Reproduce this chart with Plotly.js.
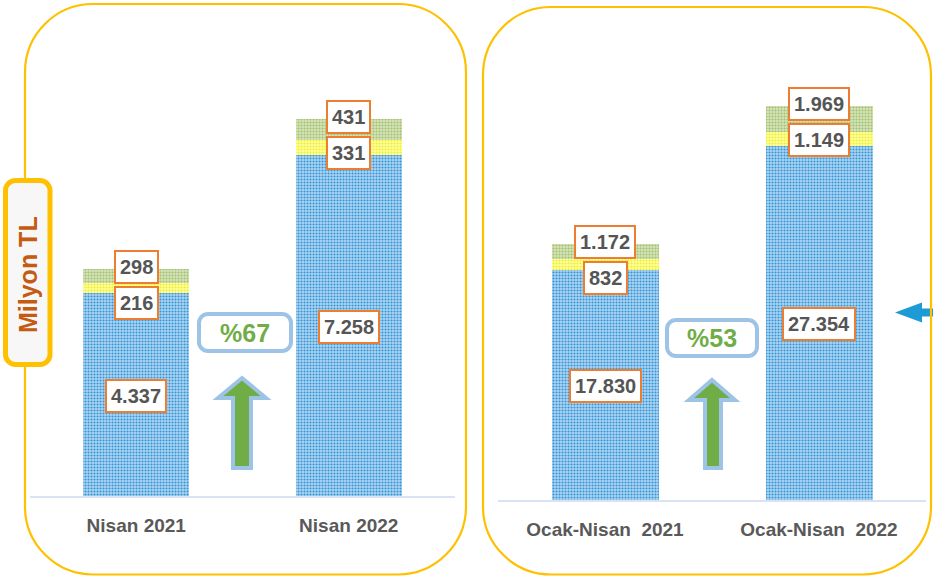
<!DOCTYPE html>
<html>
<head>
<meta charset="utf-8">
<script src="https://cdn.plot.ly/plotly-3.0.1.min.js"></script>
<style>
html,body{margin:0;padding:0;background:#ffffff;}
#chart{width:933px;height:576px;}
</style>
</head>
<body>
<div id="chart"></div>
<script>
// ---- data ----
const monthlyCategories = ['Nisan 2021', 'Nisan 2022'];
const monthlyTickText = ['Nisan 2021', 'Nisan 2022'];
const cumulativeCategories = ['Ocak-Nisan 2021', 'Ocak-Nisan 2022'];
const cumulativeTickText = ['Ocak-Nisan\u00a0\u00a02021', 'Ocak-Nisan\u00a0\u00a02022'];
const monthlyBlue = [4337, 7258];
const monthlyYellow = [216, 331];
const monthlyGreen = [298, 431];
const cumulativeBlue = [17830, 27354];
const cumulativeYellow = [832, 1149];
const cumulativeGreen = [1172, 1969];
const unitLabel = 'Milyon TL';

// ---- helpers ----
const W = 933, H = 576;
const FONT = 'Liberation Sans, Arial, sans-serif';
const px = x => x / W;
const py = y => 1 - y / H;
const pt = (x, y) => px(x).toFixed(5) + ',' + py(y).toFixed(5);
function roundRect(x0, y0, x1, y1, r) {
  const k = 0.5523 * r;
  return 'M' + pt(x0 + r, y0) +
    ' L' + pt(x1 - r, y0) +
    ' C' + pt(x1 - r + k, y0) + ' ' + pt(x1, y0 + r - k) + ' ' + pt(x1, y0 + r) +
    ' L' + pt(x1, y1 - r) +
    ' C' + pt(x1, y1 - r + k) + ' ' + pt(x1 - r + k, y1) + ' ' + pt(x1 - r, y1) +
    ' L' + pt(x0 + r, y1) +
    ' C' + pt(x0 + r - k, y1) + ' ' + pt(x0, y1 - r + k) + ' ' + pt(x0, y1 - r) +
    ' L' + pt(x0, y0 + r) +
    ' C' + pt(x0, y0 + r - k) + ' ' + pt(x0 + r - k, y0) + ' ' + pt(x0 + r, y0) + ' Z';
}
function poly(points) {
  return 'M' + points.map(p => pt(p[0], p[1])).join(' L') + ' Z';
}
const fmt = v => String(v).replace(/\B(?=(\d{3})+(?!\d))/g, '.');

const blueStyle = {color: '#acd2f1', line: {width: 0},
  pattern: {shape: '.', bgcolor: '#b0d4f2', fgcolor: '#3196d6', size: 3, solidity: 0.4}};
const yellowStyle = {color: '#ffff88', line: {width: 0},
  pattern: {shape: '.', bgcolor: '#ffff9c', fgcolor: '#eeee38', size: 3, solidity: 0.4}};
const greenStyle = {color: '#cfe0b2', line: {width: 0},
  pattern: {shape: '.', bgcolor: '#d5e4ba', fgcolor: '#a2c06f', size: 3, solidity: 0.4}};

function barTraces(cats, blue, yellow, green, xa, ya) {
  const base = {type: 'bar', x: cats, xaxis: xa, yaxis: ya, width: 0.5, hoverinfo: 'skip'};
  return [
    Object.assign({}, base, {y: blue, marker: blueStyle}),
    Object.assign({}, base, {y: yellow, marker: yellowStyle}),
    Object.assign({}, base, {y: green, marker: greenStyle})
  ];
}

const data = [].concat(
  barTraces(monthlyCategories, monthlyBlue, monthlyYellow, monthlyGreen, 'x', 'y'),
  barTraces(cumulativeCategories, cumulativeBlue, cumulativeYellow, cumulativeGreen, 'x2', 'y2')
);

const labelFont = {family: FONT, size: 20, color: '#555555', weight: 'bold'};
function valueLabels(cats, blue, yellow, green, xref, yref) {
  const out = [];
  cats.forEach((c, i) => {
    const total = blue[i] + yellow[i] + green[i];
    const common = {x: c, xref: xref, yref: yref, showarrow: false, font: labelFont,
      xanchor: 'center', yanchor: 'middle',
      bgcolor: '#ffffff', bordercolor: '#ed7d31', borderwidth: 2, borderpad: 4};
    out.push(Object.assign({}, common, {y: blue[i] / 2, text: fmt(blue[i])}));
    out.push(Object.assign({}, common, {y: total, yshift: -34, text: fmt(yellow[i])}));
    out.push(Object.assign({}, common, {y: total, yshift: 2, text: fmt(green[i])}));
  });
  return out;
}
const growth = arr => '%' + Math.round((arr[1] / arr[0] - 1) * 100);

const annotations = [].concat(
  valueLabels(monthlyCategories, monthlyBlue, monthlyYellow, monthlyGreen, 'x', 'y'),
  valueLabels(cumulativeCategories, cumulativeBlue, cumulativeYellow, cumulativeGreen, 'x2', 'y2'),
  [
    {x: px(245), y: py(333), xref: 'paper', yref: 'paper', xanchor: 'center', yanchor: 'middle',
     showarrow: false, text: growth(monthlyBlue),
     font: {family: FONT, size: 25, color: '#70ad47', weight: 'bold'}},
    {x: px(712), y: py(338), xref: 'paper', yref: 'paper', xanchor: 'center', yanchor: 'middle',
     showarrow: false, text: growth(cumulativeBlue),
     font: {family: FONT, size: 25, color: '#70ad47', weight: 'bold'}},
    {x: px(28), y: py(275), xref: 'paper', yref: 'paper', xanchor: 'center', yanchor: 'middle',
     showarrow: false, text: unitLabel, textangle: -90,
     font: {family: FONT, size: 25, color: '#c55a11', weight: 'bold'}}
  ]
);

const shapes = [
  // blue pointer on right edge
  {type: 'path', xref: 'paper', yref: 'paper', layer: 'above',
   path: poly([[895, 312.5], [922, 302.5], [922, 308.5], [936, 308.5], [936, 316.5], [922, 316.5], [922, 322.5]]),
   fillcolor: '#1e9ad6', line: {width: 0}},
  // panels
  {type: 'path', xref: 'paper', yref: 'paper', layer: 'above', path: roundRect(25, 4, 466, 574.5, 68),
   line: {color: '#ffc000', width: 2.2}},
  {type: 'path', xref: 'paper', yref: 'paper', layer: 'above', path: roundRect(483, 7, 931, 574.5, 68),
   line: {color: '#ffc000', width: 2.2}},
  // baselines
  {type: 'line', xref: 'x domain', yref: 'y', x0: 0, x1: 1, y0: 0, y1: 0, layer: 'above',
   line: {color: '#dae3f3', width: 4}},
  {type: 'line', xref: 'x2 domain', yref: 'y2', x0: 0, x1: 1, y0: 0, y1: 0, layer: 'above',
   line: {color: '#dae3f3', width: 4}},
  // growth boxes
  {type: 'path', xref: 'paper', yref: 'paper', layer: 'below', path: roundRect(199, 314, 291, 351, 9),
   fillcolor: '#ffffff', line: {color: '#9dc3e6', width: 4}},
  {type: 'path', xref: 'paper', yref: 'paper', layer: 'below', path: roundRect(667, 320, 757, 356, 9),
   fillcolor: '#ffffff', line: {color: '#9dc3e6', width: 4}},
  // green arrows
  {type: 'path', xref: 'paper', yref: 'paper', layer: 'above',
   path: poly([[242, 378], [266, 398], [251, 398], [251, 468], [233, 468], [233, 398], [218, 398]]),
   fillcolor: '#70ad47', line: {color: '#9dc3e6', width: 4}},
  {type: 'path', xref: 'paper', yref: 'paper', layer: 'above',
   path: poly([[712, 380], [735, 400], [721, 400], [721, 468], [705, 468], [705, 400], [689, 400]]),
   fillcolor: '#70ad47', line: {color: '#9dc3e6', width: 4}},
  // unit box
  {type: 'path', xref: 'paper', yref: 'paper', layer: 'above', path: roundRect(5.5, 180.5, 50, 364.5, 10),
   fillcolor: '#f7f7f7', line: {color: '#ffc000', width: 5}}
];

const xCommon = {type: 'category', range: [-0.5, 1.5], showgrid: false, zeroline: false, showline: false,
  ticks: '', ticklabelstandoff: 14, fixedrange: true,
  tickfont: {family: FONT, size: 19, color: '#595959', weight: 'bold'}};

const layout = {
  width: W, height: H,
  margin: {l: 0, r: 0, t: 0, b: 0},
  paper_bgcolor: '#ffffff', plot_bgcolor: 'rgba(0,0,0,0)',
  barmode: 'stack', showlegend: false, bargap: 0,
  xaxis: Object.assign({}, xCommon, {domain: [30 / W, 455 / W], anchor: 'y',
    tickmode: 'array', tickvals: monthlyCategories, ticktext: monthlyTickText}),
  yaxis: {domain: [78 / H, 566 / H], range: [0, 10340], visible: false, fixedrange: true, anchor: 'x'},
  xaxis2: Object.assign({}, xCommon, {domain: [498 / W, 926 / W], anchor: 'y2',
    tickmode: 'array', tickvals: cumulativeCategories, ticktext: cumulativeTickText}),
  yaxis2: {domain: [74 / H, 566 / H], range: [0, 37850], visible: false, fixedrange: true, anchor: 'x2'},
  shapes: shapes,
  annotations: annotations
};

Plotly.newPlot('chart', data, layout, {displayModeBar: false, staticPlot: true});
</script>
</body>
</html>
